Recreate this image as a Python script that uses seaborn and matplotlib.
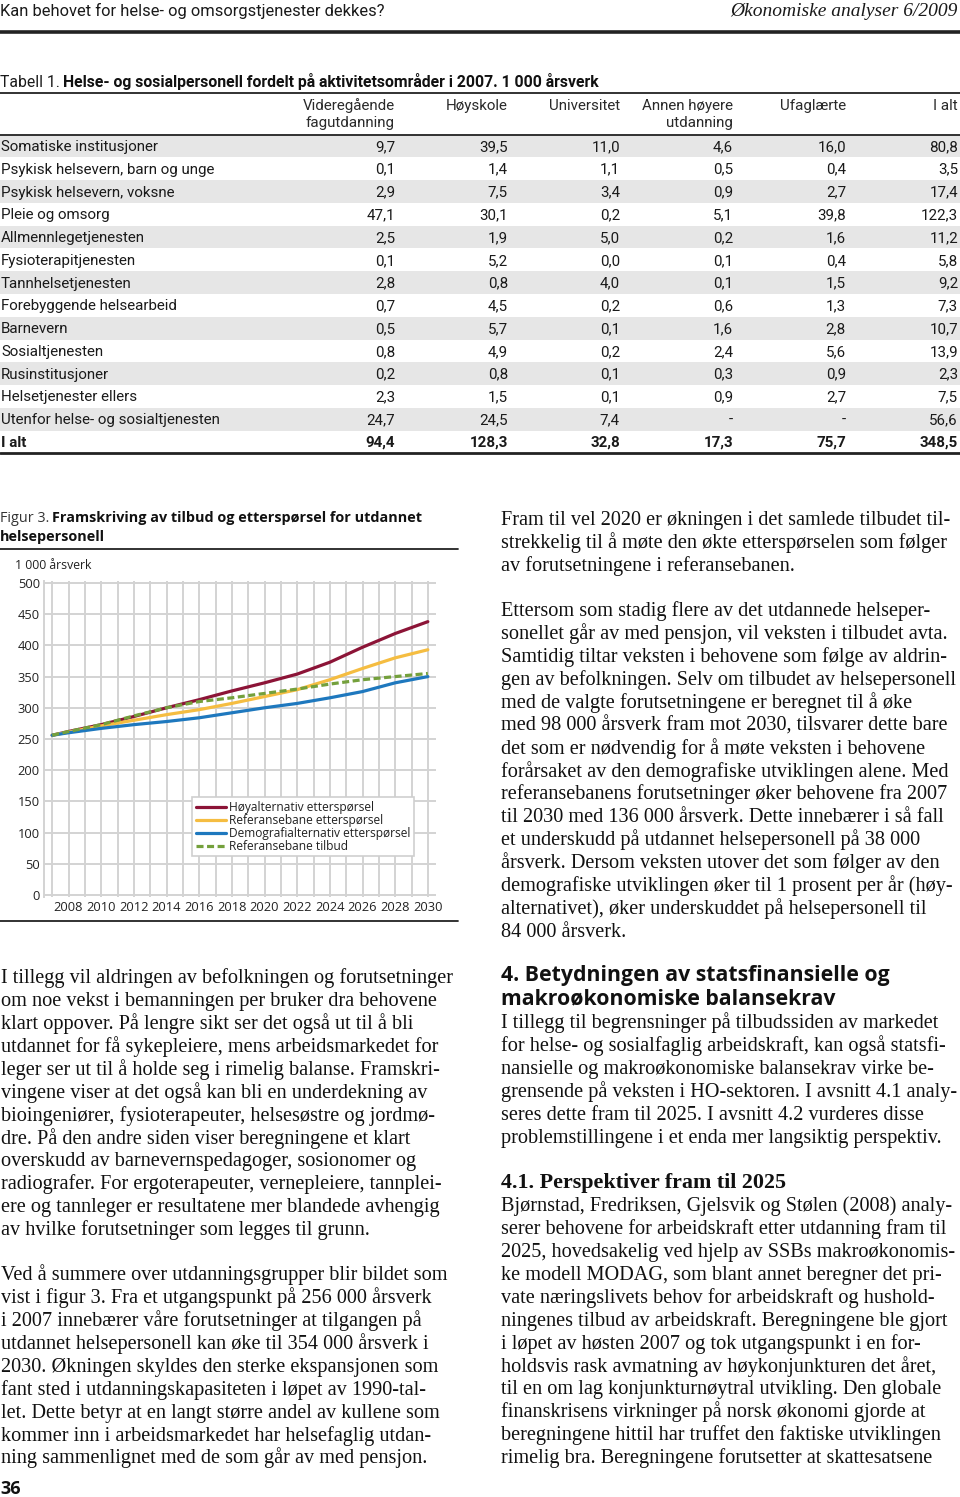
import matplotlib
matplotlib.use("Agg")
import matplotlib.pyplot as plt
import numpy as np
import pandas as pd
import seaborn as sns
from matplotlib.lines import Line2D
from matplotlib.patches import Rectangle
from matplotlib import font_manager

# ---------------- chart data (1 000 årsverk) ----------------
years = [2007, 2008, 2010, 2012, 2014, 2016, 2018, 2020, 2022, 2024, 2026, 2028, 2030]
hoy_ettersporsel = [256, 262, 273, 286, 300, 313, 327, 340, 354, 373, 397, 419, 438]
ref_ettersporsel = [256, 261, 271, 280, 289, 297, 307, 318, 329, 345, 363, 380, 393]
demo_ettersporsel = [256, 260, 267, 273, 278, 284, 292, 300, 307, 316, 326, 340, 350]
ref_tilbud = [256, 262, 273, 287, 300, 310, 316, 323, 330, 338, 345, 350, 355]
series_names = ["Høyalternativ etterspørsel", "Referansebane etterspørsel",
                "Demografialternativ etterspørsel", "Referansebane tilbud"]
series_colors = ["#8c1437", "#f5bd41", "#1e78be", "#74a03c"]
x_tick_years = list(range(2008, 2031, 2))
grid_years = list(range(2007, 2031))
y_ticks = list(range(0, 501, 50))

# ---------------- table data ----------------
table_categories = ["Somatiske institusjoner", "Psykisk helsevern, barn og unge",
                    "Psykisk helsevern, voksne", "Pleie og omsorg", "Allmennlegetjenesten",
                    "Fysioterapitjenesten", "Tannhelsetjenesten", "Forebyggende helsearbeid",
                    "Barnevern", "Sosialtjenesten", "Rusinstitusjoner", "Helsetjenester ellers",
                    "Utenfor helse- og sosialtjenesten", "I alt"]
table_headers = [("Videregående", "fagutdanning"), ("Høyskole", ""), ("Universitet", ""),
                 ("Annen høyere", "utdanning"), ("Ufaglærte", ""), ("I alt", "")]
col_videregaende = [9.7, 0.1, 2.9, 47.1, 2.5, 0.1, 2.8, 0.7, 0.5, 0.8, 0.2, 2.3, 24.7, 94.4]
col_hoyskole = [39.5, 1.4, 7.5, 30.1, 1.9, 5.2, 0.8, 4.5, 5.7, 4.9, 0.8, 1.5, 24.5, 128.3]
col_universitet = [11.0, 1.1, 3.4, 0.2, 5.0, 0.0, 4.0, 0.2, 0.1, 0.2, 0.1, 0.1, 7.4, 32.8]
col_annen_hoyere = [4.6, 0.5, 0.9, 5.1, 0.2, 0.1, 0.1, 0.6, 1.6, 2.4, 0.3, 0.9, None, 17.3]
col_ufaglaerte = [16.0, 0.4, 2.7, 39.8, 1.6, 0.4, 1.5, 1.3, 2.8, 5.6, 0.9, 2.7, None, 75.7]
col_i_alt = [80.8, 3.5, 17.4, 122.3, 11.2, 5.8, 9.2, 7.3, 10.7, 13.9, 2.3, 7.5, 56.6, 348.5]

# ---------------- page text ----------------
left_par1 = [
    "I tillegg vil aldringen av befolkningen og forutsetninger",
    "om noe vekst i bemanningen per bruker dra behovene",
    "klart oppover. På lengre sikt ser det også ut til å bli",
    "utdannet for få sykepleiere, mens arbeidsmarkedet for",
    "leger ser ut til å holde seg i rimelig balanse. Framskri-",
    "vingene viser at det også kan bli en underdekning av",
    "bioingeniører, fysioterapeuter, helsesøstre og jordmø-",
    "dre. På den andre siden viser beregningene et klart",
    "overskudd av barnevernspedagoger, sosionomer og",
    "radiografer. For ergoterapeuter, vernepleiere, tannplei-",
    "ere og tannleger er resultatene mer blandede avhengig",
    "av hvilke forutsetninger som legges til grunn.",
]
left_par2 = [
    "Ved å summere over utdanningsgrupper blir bildet som",
    "vist i figur 3. Fra et utgangspunkt på 256 000 årsverk",
    "i 2007 innebærer våre forutsetninger at tilgangen på",
    "utdannet helsepersonell kan øke til 354 000 årsverk i",
    "2030. Økningen skyldes den sterke ekspansjonen som",
    "fant sted i utdanningskapasiteten i løpet av 1990-tal-",
    "let. Dette betyr at en langt større andel av kullene som",
    "kommer inn i arbeidsmarkedet har helsefaglig utdan-",
    "ning sammenlignet med de som går av med pensjon.",
]
right_par1 = [
    "Fram til vel 2020 er økningen i det samlede tilbudet til-",
    "strekkelig til å møte den økte etterspørselen som følger",
    "av forutsetningene i referansebanen.",
]
right_par2 = [
    "Ettersom som stadig flere av det utdannede helseper-",
    "sonellet går av med pensjon, vil veksten i tilbudet avta.",
    "Samtidig tiltar veksten i behovene som følge av aldrin-",
    "gen av befolkningen. Selv om tilbudet av helsepersonell",
    "med de valgte forutsetningene er beregnet til å øke",
    "med 98 000 årsverk fram mot 2030, tilsvarer dette bare",
    "det som er nødvendig for å møte veksten i behovene",
    "forårsaket av den demografiske utviklingen alene. Med",
    "referansebanens forutsetninger øker behovene fra 2007",
    "til 2030 med 136 000 årsverk. Dette innebærer i så fall",
    "et underskudd på utdannet helsepersonell på 38 000",
    "årsverk. Dersom veksten utover det som følger av den",
    "demografiske utviklingen øker til 1 prosent per år (høy-",
    "alternativet), øker underskuddet på helsepersonell til",
    "84 000 årsverk.",
]
heading4 = ["4. Betydningen av statsfinansielle og", "makroøkonomiske balansekrav"]
right_par3 = [
    "I tillegg til begrensninger på tilbudssiden av markedet",
    "for helse- og sosialfaglig arbeidskraft, kan også statsfi-",
    "nansielle og makroøkonomiske balansekrav virke be-",
    "grensende på veksten i HO-sektoren. I avsnitt 4.1 analy-",
    "seres dette fram til 2025. I avsnitt 4.2 vurderes disse",
    "problemstillingene i et enda mer langsiktig perspektiv.",
]
heading41 = "4.1. Perspektiver fram til 2025"
right_par4 = [
    "Bjørnstad, Fredriksen, Gjelsvik og Stølen (2008) analy-",
    "serer behovene for arbeidskraft etter utdanning fram til",
    "2025, hovedsakelig ved hjelp av SSBs makroøkonomis-",
    "ke modell MODAG, som blant annet beregner det pri-",
    "vate næringslivets behov for arbeidskraft og hushold-",
    "ningenes tilbud av arbeidskraft. Beregningene ble gjort",
    "i løpet av høsten 2007 og tok utgangspunkt i en for-",
    "holdsvis rask avmatning av høykonjunkturen det året,",
    "til en om lag konjunkturnøytral utvikling. Den globale",
    "finanskrisens virkninger på norsk økonomi gjorde at",
    "beregningene hittil har truffet den faktiske utviklingen",
    "rimelig bra. Beregningene forutsetter at skattesatsene",
]

# ---------------- fonts ----------------
sns.set_theme(style="white")
ttf = font_manager.fontManager.ttflist
names = {f.name for f in ttf}


def has_bold(name):
    for f in ttf:
        if f.name != name:
            continue
        w = f.weight
        if isinstance(w, str):
            if "bold" in w.lower() or w.lower() in ("heavy", "black"):
                return True
        elif w >= 700:
            return True
    return False


SANS = next((n for n in ["Open Sans", "Noto Sans", "Lato", "Roboto", "DejaVu Sans"]
             if n in names and has_bold(n)), "DejaVu Sans")
NARROW = "Liberation Sans Narrow" if "Liberation Sans Narrow" in names else "Roboto"
SERIF = "Liberation Serif" if "Liberation Serif" in names else "DejaVu Serif"
plt.rcParams["font.family"] = [SANS, "DejaVu Sans"]

W, H = 960, 1497
fig = plt.figure(figsize=(W / 100, H / 100), dpi=100)
fig.patch.set_facecolor("white")
renderer = fig.canvas.get_renderer()


def txt(x, y, s, size, family, weight="normal", style="normal", ha="left",
        va="baseline", color="#111111"):
    return fig.text(x / W, 1 - y / H, s, fontsize=size, family=family,
                    fontweight=weight, fontstyle=style, ha=ha, va=va, color=color)


def hline(x0, x1, y, lw, color="#222222"):
    fig.add_artist(Line2D([x0 / W, x1 / W], [1 - y / H, 1 - y / H],
                          transform=fig.transFigure, lw=lw, color=color))


def runs(x, y, parts, gap=4):
    for s, kw in parts:
        t = txt(x, y, s, **kw)
        x += t.get_window_extent(renderer).width + gap


# ---------------- page header ----------------
TS = 10.9
txt(0, 16, "Kan behovet for helse- og omsorgstjenester dekkes?", 11.9, NARROW, color="#1a1a1a")
txt(958, 16, "Økonomiske analyser 6/2009", 14, SERIF, style="italic", ha="right", color="#1a1a1a")
hline(0, 960, 32, 2.6)

# ---------------- table ----------------
runs(0, 87, [("Tabell 1.", dict(size=11.3, family=NARROW, color="#1a1a1a")),
             ("Helse- og sosialpersonell fordelt på aktivitetsområder i 2007. 1 000 årsverk",
              dict(size=11.3, family=NARROW, weight="bold"))], gap=3)
hline(0, 960, 93, 1.3)
col_right = [395, 508, 620, 733, 846, 958]
for (h1, h2), xr in zip(table_headers, col_right):
    txt(xr, 110, h1, TS, NARROW, ha="right", color="#2a2a2a")
    if h2:
        txt(xr, 127, h2, TS, NARROW, ha="right", color="#2a2a2a")
hline(0, 960, 134.5, 1.3)

columns = [col_videregaende, col_hoyskole, col_universitet, col_annen_hoyere, col_ufaglaerte, col_i_alt]
row_y0, row_step = 146.0, 22.77
for i, cat in enumerate(table_categories):
    yc = row_y0 + i * row_step
    if i % 2 == 0:
        fig.add_artist(Rectangle((0, 1 - (yc + row_step / 2) / H), 1, row_step / H,
                                 transform=fig.transFigure, color="#e6e6e6", lw=0, zorder=0))
    wgt = "bold" if cat == "I alt" else "normal"
    txt(1, yc + 5, cat, TS, NARROW, weight=wgt, color="#1a1a1a")
    for vals, xr in zip(columns, col_right):
        v = vals[i]
        s = "-" if v is None else f"{v:.1f}".replace(".", ",")
        txt(xr, yc + 5, s, TS, NARROW, weight=wgt, ha="right", color="#1a1a1a")
hline(0, 960, 453, 2.0)

# ---------------- figure 3 ----------------
runs(0, 522, [("Figur 3.", dict(size=10.4, family=SANS, color="#333333")),
              ("Framskriving av tilbud og etterspørsel for utdannet",
               dict(size=10.4, family=SANS, weight="bold"))], gap=3)
txt(0, 541, "helsepersonell", 10.4, SANS, weight="bold")
hline(0, 458, 549, 1.3)
txt(15, 569, "1 000 årsverk", 8.8, SANS, color="#222222")

ax = fig.add_axes([44 / W, 1 - 896.9 / H, 392 / W, 315.8 / H])
df = pd.DataFrame({
    "År": years * 4,
    "Verdi": hoy_ettersporsel + ref_ettersporsel + demo_ettersporsel + ref_tilbud,
    "Serie": np.repeat(series_names, len(years)),
})
sns.lineplot(data=df, x="År", y="Verdi", hue="Serie", style="Serie",
             hue_order=series_names, style_order=series_names,
             palette=dict(zip(series_names, series_colors)),
             dashes={series_names[0]: "", series_names[1]: "", series_names[2]: "",
                     series_names[3]: (2.2, 1.1)},
             linewidth=2.3, legend=False, ax=ax)
ax.set_xlim(2006.5, 2030.5)
ax.set_ylim(-3, 503)
ax.set_xticks(x_tick_years)
ax.set_xticks(grid_years, minor=True)
ax.set_yticks(y_ticks)
ax.set_xticklabels([str(y) for y in x_tick_years])
ax.grid(True, which="both", axis="x", color="#d3d3d3", lw=1.4)
ax.grid(True, which="major", axis="y", color="#d3d3d3", lw=1.4)
ax.set_axisbelow(True)
ax.tick_params(which="both", length=0, labelsize=9.3, labelcolor="#222222")
ax.tick_params(axis="y", pad=3)
ax.tick_params(axis="x", pad=3)
for lab in ax.get_xticklabels() + ax.get_yticklabels():
    lab.set_family(SANS)
for side in ["top", "right", "bottom"]:
    ax.spines[side].set_visible(False)
ax.spines["left"].set_color("#d3d3d3")
ax.spines["left"].set_linewidth(1.4)
ax.set_xlabel("")
ax.set_ylabel("")
ax.set_facecolor("white")

handles = [Line2D([0], [0], color=c, lw=2.3) for c in series_colors[:3]]
handles.append(Line2D([0], [0], color=series_colors[3], lw=2.3, linestyle=(0, (2.2, 1.1))))
leg = ax.legend(handles, series_names, loc="upper left", bbox_to_anchor=(0.378, 0.316),
                frameon=True, fancybox=False, framealpha=1, edgecolor="#cfcfcf",
                borderpad=0.3, handlelength=2.5, handletextpad=0.3, labelspacing=0.0,
                borderaxespad=0, prop={"family": SANS, "size": 8.65})
leg.get_frame().set_linewidth(1.2)
for t in leg.get_texts():
    t.set_color("#222222")

hline(0, 458, 921, 1.3)

# ---------------- body text ----------------
BS = 14.55
STEP = 22.93


def para(x, y0, lines, size=BS, family=SERIF, weight="normal"):
    for k, line in enumerate(lines):
        txt(x, y0 + k * STEP + 6, line, size, family, weight=weight)


para(1, 977, left_par1)
para(1, 1274, left_par2)
txt(0, 1494, "36", 13, SANS, weight="bold")

para(501, 519, right_par1)
para(501, 610, right_par2)
for k, line in enumerate(heading4):
    txt(501, 975 + k * 23 + 6, line, 15.3, SANS, weight="bold")
para(501, 1022, right_par3)
txt(501, 1182 + 6, heading41, 15.8, SERIF, weight="bold")
para(501, 1205, right_par4)

fig.savefig("out.png", dpi=100, facecolor="white")
